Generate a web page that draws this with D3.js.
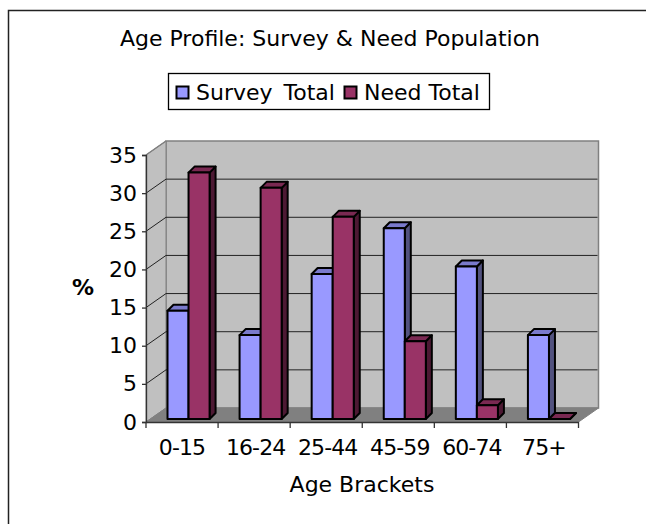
<!DOCTYPE html>
<html>
<head>
<meta charset="utf-8">
<script src="https://cdnjs.cloudflare.com/ajax/libs/d3/7.8.5/d3.min.js"></script>
<style>
  html, body { margin: 0; padding: 0; background: #fff; }
  svg { display: block; }
  text { font-family: "DejaVu Sans", Verdana, sans-serif; fill: #000; }
</style>
</head>
<body>
<svg id="chart" width="646" height="524"></svg>
<script>
const categories = ["0-15", "16-24", "25-44", "45-59", "60-74", "75+"];
const surveyTotal = [14.2, 11, 19, 25, 20, 11];
const needTotal = [32.3, 30.3, 26.5, 10.2, 1.8, 0];
const yTicks = [0, 5, 10, 15, 20, 25, 30, 35];
const seriesNames = ["Survey Total", "Need Total"];

const faceColors = ["#9999ff", "#993366"];
const topColors = ["#7a7acc", "#7a2952"];
const sideColors = ["#52527f", "#4d1933"];

const svg = d3.select("#chart");
const fontSize = 22;

// Projection of the 3D box: the back wall sits up and to the right of the front edge.
const depth = { dx: 20, dy: -14 };
const barDepth = 6;
const barInset = { dx: 6.5, dy: -3 };

const x = d3.scaleBand().domain(categories).range([146, 578.5]);
const y = d3.scaleLinear().domain([0, 35]).range([422, 155]);
const groupPad = 15;
const xSeries = d3.scaleBand()
  .domain(d3.range(2))
  .range([groupPad, x.bandwidth() - groupPad]);

const [x0, x1] = x.range();
const y0 = y(0), yMax = y(35);
const poly = pts => pts.map(p => p.join(",")).join(" ");

// Outer frame: only the top and left edges fall inside the page
svg.append("path")
  .attr("d", "M8.5,524V10.5H646")
  .attr("fill", "none").attr("stroke", "#222").attr("stroke-width", 1.5);

svg.append("text")
  .attr("x", 330).attr("y", 46)
  .attr("text-anchor", "middle").attr("font-size", fontSize)
  .text("Age Profile: Survey & Need Population");

// Legend
const legend = svg.append("g");
legend.append("rect")
  .attr("x", 168.5).attr("y", 73.5).attr("width", 321).attr("height", 36)
  .attr("fill", "#fff").attr("stroke", "#000").attr("stroke-width", 1.3);
[176.5, 344.5].forEach((lx, i) => {
  legend.append("rect")
    .attr("x", lx).attr("y", 86.5).attr("width", 12).attr("height", 12)
    .attr("fill", faceColors[i]).attr("stroke", "#000").attr("stroke-width", 2);
  legend.append("text")
    .attr("x", lx + 19.5).attr("y", 100)
    .attr("font-size", fontSize)
    .attr("word-spacing", i === 0 ? 4 : 0)
    .text(seriesNames[i]);
});

// Walls and floor
const box = svg.append("g");
box.append("polygon")
  .attr("points", poly([[x0 + depth.dx, yMax + depth.dy], [x1 + depth.dx, yMax + depth.dy],
    [x1 + depth.dx, y0 + depth.dy], [x0 + depth.dx, y0 + depth.dy]]))
  .attr("fill", "#c0c0c0").attr("stroke", "#808080").attr("stroke-width", 1.5);
box.append("polygon")
  .attr("points", poly([[x0, yMax], [x0 + depth.dx, yMax + depth.dy],
    [x0 + depth.dx, y0 + depth.dy], [x0, y0]]))
  .attr("fill", "#c0c0c0").attr("stroke", "#808080").attr("stroke-width", 1);

// Gridlines run along the side wall and across the back wall
const grid = box.append("g").attr("fill", "none").attr("stroke", "#222").attr("stroke-width", 1);
grid.selectAll("polyline")
  .data(yTicks.filter(t => t > 0 && t < 35))
  .join("polyline")
  .attr("points", t => poly([[x0, y(t)], [x0 + depth.dx, y(t) + depth.dy], [x1 + depth.dx - 1, y(t) + depth.dy]]));
box.append("polygon")
  .attr("points", poly([[x0, y0], [x0 + depth.dx, y0 + depth.dy],
    [x1 + depth.dx, y0 + depth.dy], [x1, y0]]))
  .attr("fill", "#808080").attr("stroke", "#808080");
box.append("line")
  .attr("x1", x0).attr("y1", yMax).attr("x2", x0 + depth.dx).attr("y2", yMax + depth.dy)
  .attr("stroke", "#808080").attr("stroke-width", 1.5);

// Bars: front face, top and side of every column
const baseY = y0 + barInset.dy;
const barsData = [];
categories.forEach((c, i) => {
  [surveyTotal[i], needTotal[i]].forEach((v, s) => barsData.push({ c, v, s }));
});
const bars = svg.append("g").attr("stroke", "#000").attr("stroke-width", 2).attr("stroke-linejoin", "round");
const bar = bars.selectAll("g").data(barsData).join("g");
const left = d => x(d.c) + xSeries(d.s) + barInset.dx;
const right = d => left(d) + xSeries.bandwidth();
const topY = d => y(d.v) + barInset.dy;
bar.append("polygon")
  .attr("fill", d => sideColors[d.s])
  .attr("points", d => poly([[right(d), topY(d)], [right(d) + barDepth, topY(d) - barDepth],
    [right(d) + barDepth, baseY - barDepth], [right(d), baseY]]));
bar.append("polygon")
  .attr("fill", d => topColors[d.s])
  .attr("points", d => poly([[left(d), topY(d)], [left(d) + barDepth, topY(d) - barDepth],
    [right(d) + barDepth, topY(d) - barDepth], [right(d), topY(d)]]));
bar.append("rect")
  .attr("fill", d => faceColors[d.s])
  .attr("x", left).attr("y", topY)
  .attr("width", xSeries.bandwidth())
  .attr("height", d => baseY - topY(d));

// Axes along the front edge of the box
const yAxis = d3.axisLeft(y).tickValues(yTicks).tickSize(4).tickPadding(5);
const gy = svg.append("g").attr("transform", `translate(${x0},0)`).call(yAxis);
gy.selectAll("text").attr("font-size", fontSize);
gy.selectAll("path,line").attr("stroke", "#333").attr("stroke-width", 1.3);

const xAxis = d3.axisBottom(x).tickSize(0).tickPadding(17);
const gx = svg.append("g").attr("transform", `translate(0,${y0})`).call(xAxis);
gx.selectAll("text")
  .attr("font-size", fontSize)
  .attr("letter-spacing", -0.9)
  .attr("dx", (d, i) => i === 0 ? 0 : 1.5);
gx.selectAll("path,line").attr("stroke", "#333").attr("stroke-width", 1.3);
gx.append("g").selectAll("line")
  .data(categories.map(c => x(c)).concat(x1))
  .join("line")
  .attr("x1", d => d).attr("x2", d => d).attr("y1", 0).attr("y2", 6)
  .attr("stroke", "#333").attr("stroke-width", 1.3);

svg.append("text")
  .attr("x", 83).attr("y", 295)
  .attr("text-anchor", "middle").attr("font-size", fontSize).attr("font-weight", "bold")
  .text("%");
svg.append("text")
  .attr("x", 362).attr("y", 492)
  .attr("text-anchor", "middle").attr("font-size", fontSize)
  .text("Age Brackets");
</script>
</body>
</html>
